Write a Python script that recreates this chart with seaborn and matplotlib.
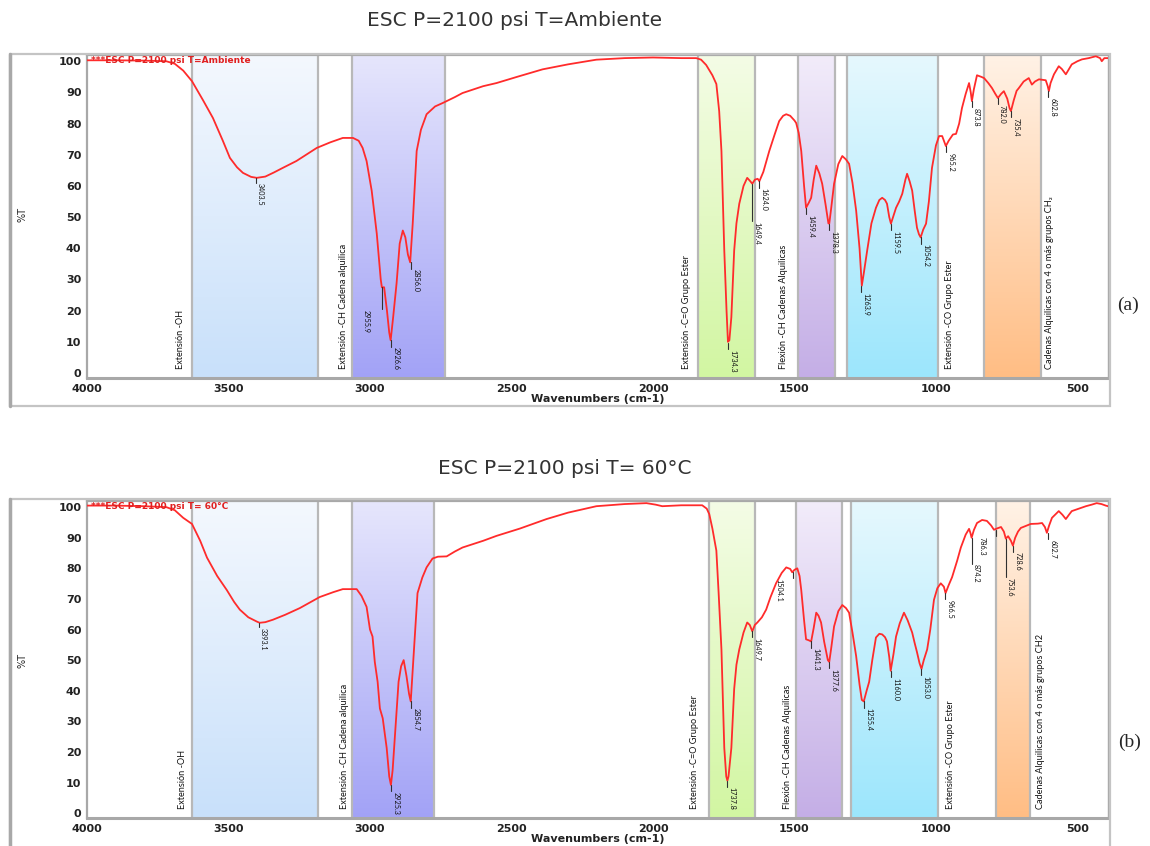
import numpy as np
import matplotlib
matplotlib.use("Agg")
import matplotlib.pyplot as plt
from matplotlib.colors import LinearSegmentedColormap
from matplotlib.patches import Rectangle
from matplotlib.ticker import MultipleLocator
import seaborn as sns

# ================================================================
# DATA
# ================================================================
titles = ["ESC P=2100 psi T=Ambiente", "ESC P=2100 psi T= 60°C"]
legends = ["***ESC P=2100 psi T=Ambiente", "***ESC P=2100 psi T= 60°C"]
panel_tags = ["(a)", "(b)"]

wn_a = [4000, 3900, 3800, 3720, 3690, 3660, 3629, 3590, 3555, 3520, 3495, 3470, 3449, 3420,
        3400, 3370, 3340, 3308, 3260, 3188, 3140, 3096, 3060, 3040, 3026, 3012, 2994, 2976,
        2962, 2958, 2950, 2940, 2932, 2927, 2918, 2906, 2895, 2884, 2875, 2866, 2858, 2849,
        2840, 2835, 2820, 2800, 2770, 2743, 2700, 2673, 2600, 2553, 2480, 2390, 2300, 2200,
        2100, 2000, 1900, 1847, 1830, 1812, 1790, 1776, 1766, 1758, 1748, 1740, 1735, 1730,
        1723, 1713, 1705, 1695, 1680, 1667, 1656, 1649, 1640, 1630, 1624, 1610, 1589, 1570,
        1554, 1540, 1529, 1515, 1500, 1494, 1485, 1476, 1466, 1459, 1450, 1441, 1432, 1423,
        1412, 1402, 1390, 1380, 1377, 1370, 1360, 1345, 1331, 1318, 1307, 1295, 1282, 1270,
        1262, 1255, 1243, 1228, 1212, 1200, 1190, 1180, 1173, 1165, 1159, 1150, 1141, 1130,
        1119, 1108, 1102, 1093, 1084, 1075, 1067, 1060, 1054, 1045, 1035, 1025, 1014, 1000,
        989, 978, 970, 965, 955, 940, 929, 918, 908, 895, 883, 877, 873, 866, 855, 840, 830,
        815, 802, 790, 781, 770, 760, 748, 740, 735, 725, 715, 707, 690, 672, 661, 650, 636,
        612, 605, 601, 595, 583, 566, 555, 541, 530, 520, 500, 484, 460, 435, 420, 414, 405,
        392]
t_a = [100.3, 100.3, 100.2, 100.0, 99.2, 97.0, 93.6, 87.5, 81.8, 74.5, 69.0, 66.0, 64.2, 62.9,
       62.6, 63.0, 64.3, 65.8, 68.0, 72.2, 74.0, 75.4, 75.4, 74.5, 72.2, 68.0, 58.5, 44.7,
       30.0, 27.5, 27.5, 20.0, 13.0, 10.5, 18.0, 28.8, 41.5, 45.7, 43.5, 38.0, 35.5, 47.9,
       63.0, 71.2, 78.0, 83.0, 85.5, 86.6, 88.5, 89.8, 92.0, 93.0, 95.0, 97.4, 99.0, 100.5,
       101.0, 101.2, 101.0, 101.0, 100.5, 98.8, 95.5, 92.7, 84.0, 71.2, 39.3, 20.0, 10.0, 10.5,
       17.9, 39.3, 48.0, 54.3, 60.0, 62.6, 61.5, 60.7, 62.0, 62.3, 61.5, 64.5, 71.2, 76.5,
       80.8, 82.5, 83.0, 82.5, 81.0, 80.2, 77.0, 71.2, 60.0, 53.0, 54.5, 56.2, 62.0, 66.5,
       64.0, 60.7, 54.0, 48.0, 47.9, 53.0, 60.7, 67.0, 69.6, 68.5, 67.1, 61.0, 52.1, 40.0,
       28.0, 32.0, 39.3, 48.0, 53.0, 55.5, 56.2, 55.5, 54.3, 50.0, 47.9, 50.5, 53.0, 55.0,
       57.5, 62.0, 63.9, 61.5, 58.5, 52.0, 46.6, 44.5, 43.5, 46.0, 47.9, 55.0, 65.8, 73.0,
       76.0, 76.0, 74.0, 72.8, 74.5, 76.5, 76.7, 80.0, 85.0, 89.5, 93.0, 90.0, 87.2, 91.0,
       95.5, 95.0, 94.6, 93.0, 91.4, 89.5, 88.2, 89.5, 90.4, 88.0, 85.0, 84.0, 87.5, 90.5,
       91.4, 93.5, 94.6, 92.5, 93.5, 94.2, 93.9, 92.0, 90.4, 93.0, 95.8, 98.4, 97.5, 95.8,
       97.5, 99.0, 100.0, 100.6, 101.0, 101.6, 101.0, 100.0, 101.0, 101.0]

wn_b = [4000, 3900, 3800, 3720, 3690, 3660, 3629, 3600, 3576, 3540, 3506, 3480, 3460, 3430,
        3400, 3390, 3370, 3343, 3300, 3248, 3178, 3130, 3096, 3047, 3030, 3012, 3000, 2991,
        2983, 2973, 2965, 2955, 2941, 2932, 2926, 2920, 2913, 2899, 2890, 2881, 2871, 2862,
        2856, 2846, 2838, 2832, 2815, 2800, 2779, 2760, 2729, 2700, 2673, 2600, 2553, 2470,
        2376, 2300, 2200, 2100, 2023, 1990, 1967, 1900, 1826, 1810, 1801, 1790, 1776, 1768,
        1758, 1748, 1741, 1737, 1733, 1723, 1713, 1705, 1695, 1680, 1667, 1658, 1649, 1640,
        1631, 1615, 1600, 1585, 1565, 1545, 1529, 1515, 1508, 1500, 1490, 1482, 1476, 1466,
        1459, 1450, 1441, 1432, 1423, 1415, 1406, 1395, 1382, 1377, 1370, 1360, 1345, 1331,
        1318, 1307, 1295, 1282, 1270, 1262, 1255, 1245, 1236, 1225, 1212, 1200, 1190, 1180,
        1173, 1165, 1160, 1150, 1141, 1128, 1113, 1100, 1084, 1075, 1067, 1058, 1051, 1043,
        1031, 1020, 1007, 995, 983, 972, 966, 955, 943, 925, 912, 895, 883, 878, 874, 866,
        855, 837, 820, 805, 795, 785, 770, 760, 753, 745, 735, 728, 720, 710, 700, 665, 640,
        625, 615, 608, 600, 590, 566, 553, 541, 530, 520, 495, 470, 450, 432, 415, 400, 392]
t_b = [100.5, 100.5, 100.3, 100.0, 99.0, 96.5, 94.5, 89.0, 83.5, 77.5, 72.9, 69.0, 66.5, 64.0,
       62.6, 62.2, 62.4, 63.2, 64.8, 67.0, 70.6, 72.2, 73.2, 73.2, 71.0, 67.4, 60.0, 57.7,
       49.4, 42.9, 34.2, 31.0, 21.3, 12.0, 9.2, 14.0, 23.5, 42.9, 48.0, 50.0, 44.8, 39.0,
       36.5, 51.3, 63.0, 71.9, 77.0, 80.3, 83.2, 83.8, 83.9, 85.5, 86.8, 89.0, 90.6, 93.0,
       96.1, 98.2, 100.3, 101.0, 101.3, 100.8, 100.3, 100.6, 100.6, 99.5, 97.7, 93.0, 85.8, 72.0,
       53.5, 21.3, 12.0, 10.6, 12.0, 21.3, 40.6, 48.5, 53.5, 59.0, 62.3, 61.5, 59.4, 61.5,
       62.3, 64.0, 66.5, 70.5, 75.1, 78.5, 80.3, 79.8, 78.7, 79.5, 80.0, 77.5, 72.9, 63.0,
       56.8, 56.5, 56.1, 60.5, 65.5, 64.5, 62.3, 56.0, 50.0, 49.4, 54.0, 61.0, 66.0, 68.0,
       67.0, 65.5, 59.0, 51.3, 42.0, 37.0, 36.5, 40.0, 42.9, 50.0, 57.4, 58.6, 58.4, 57.5,
       56.1, 51.0, 46.5, 52.0, 57.7, 62.0, 65.5, 63.0, 59.0, 55.5, 52.6, 49.0, 47.1, 50.0,
       53.5, 60.0, 69.7, 73.5, 75.1, 74.0, 71.9, 74.5, 77.1, 82.5, 86.8, 91.0, 92.9, 91.5, 90.0, 92.5,
       94.8, 95.8, 95.5, 94.0, 92.6, 93.0, 93.5, 92.0, 89.7, 90.5, 89.0, 87.4, 90.0, 92.0, 93.2, 94.5, 94.6,
       94.8, 93.5, 91.6, 94.0, 96.5, 98.7, 97.5, 96.1, 97.5, 98.7, 99.5, 100.3, 100.8, 101.3, 101.0, 100.5, 100.3]

# assignment bands (left / right wavenumber edges)
band_names = ["Extensión -OH", "Extensión -CH Cadena alquilica", "Extensión -C=O Grupo Ester",
              "Flexión -CH Cadenas Alquilicas", "Extensión -CO Grupo Ester",
              "Cadenas Alquilicas con 4 o más grupos CH₂"]
band_names_b = band_names[:5] + ["Cadenas Alquilicas con 4 o más grupos CH2"]
bands_a = [(3629, 3184), (3062, 2736), (1842, 1639), (1487, 1356), (1315, 992), (829, 627)]
bands_b = [(3629, 3184), (3062, 2775), (1801, 1639), (1495, 1333), (1301, 992), (789, 666)]
band_colors = [("#f4f8fe", "#c8e0fa"), ("#e6e6fc", "#a2a2f6"), ("#f4fce6", "#d2f6a2"),
               ("#f2ecfa", "#c4aee6"), ("#e6f8fe", "#9ce6fc"), ("#fff2e6", "#ffbd84")]

# peak picks
peaks_a = ["3403.5", "2955.9", "2926.6", "2856.0", "1734.3", "1649.4", "1624.0", "1459.4",
           "1378.3", "1263.9", "1159.5", "1054.2", "965.2", "873.8", "782.0", "735.4", "602.8"]
peak_t_a = [62.6, 27.5, 10.5, 35.5, 9.6, 60.7, 61.5, 53.0, 47.9, 28.0, 47.9, 43.5, 72.8,
            87.2, 88.2, 84.0, 90.4]
peaks_b = ["3393.1", "2925.3", "2854.7", "1737.8", "1649.7", "1504.1", "1441.3", "1377.6",
           "1255.4", "1160.0", "1053.0", "966.5", "874.2", "786.3", "753.6", "728.6", "602.7"]
peak_t_b = [62.2, 9.2, 36.5, 10.6, 59.4, 78.7, 56.1, 49.4, 36.5, 46.5, 47.1, 71.9, 90.0,
            92.6, 89.7, 87.4, 91.6]

# ================================================================
# LAYOUT
# ================================================================
W, H = 1150, 846
XLIM = (4000, 392)
YLIM = (-1.6, 102)
NARROW = ["Liberation Sans Narrow", "Lato", "DejaVu Sans"]

label_x_a = [3671, 3095, 1883, 1537, 951, 597]
label_x_b = [3661, 3089, 1854, 1523, 947, 630]
# leader length (%T) and text shift (points) for each pick
lead_a = [1.5, 7, 2, 2, 2, 12, 2, 2, 2, 2, 2, 2, 2, 2, 2, 2, 2]
shift_a = [1, -9, 1, 1, 1, 1, 1, 1, 1, 1, 1, 1, 1, 1, 1, 1, 1]
lead_b = [1.5, 2, 2, 2, 2, 2, 2, 2, 2, 2, 2, 2, 8.5, 2, 12.5, 2, 2]
shift_b = [1, 1, 1, 1, 1, -8, 1, 1, 1, 1, 1, 1, 1, -8, 1, 1, 1]


def draw_band(ax, left, right, c_top, c_bot):
    cmap = LinearSegmentedColormap.from_list("band", [c_bot, c_top])
    grad = np.linspace(0, 1, 256).reshape(-1, 1)
    ax.imshow(grad, extent=[left, right, YLIM[0], YLIM[1]], origin="lower",
              cmap=cmap, aspect="auto", zorder=0, interpolation="bilinear")
    for edge in (left, right):
        ax.axvline(edge, color="#b8b8b8", lw=1.6, zorder=1)


def draw_panel(ax, wn, t, bands, names, label_x, peaks, peak_t, lead, shift, legend):
    for (l, r), (ct, cb) in zip(bands, band_colors):
        draw_band(ax, l, r, ct, cb)

    sns.lineplot(x=wn, y=t, ax=ax, color="#ff2b2b", lw=1.3, sort=False,
                 estimator=None, zorder=3)

    for x, name in zip(label_x, names):
        ax.text(x, 1.2, name, rotation=90, ha="center", va="bottom",
                fontsize=6.6, family=NARROW, color="#111111", zorder=4)

    for lab, pt, ld, dx in zip(peaks, peak_t, lead, shift):
        w = float(lab)
        ax.plot([w, w], [pt, pt - ld], color="#303030", lw=0.8, zorder=4)
        ax.annotate(lab, xy=(w, pt - ld), xytext=(dx, -0.5), textcoords="offset points",
                    rotation=270, ha="left" if dx >= 0 else "right", va="top",
                    fontsize=5.2, family=NARROW, color="#111111", zorder=4)

    ax.text(0.004, 0.982, legend, transform=ax.transAxes, color="#e02020",
            fontsize=6.5, fontweight="bold", va="center", ha="left", zorder=5)

    ax.set_xlim(*XLIM)
    ax.set_ylim(*YLIM)
    ax.xaxis.set_major_locator(MultipleLocator(500))
    ax.xaxis.set_minor_locator(MultipleLocator(100))
    ax.yaxis.set_major_locator(MultipleLocator(10))
    ax.yaxis.set_minor_locator(MultipleLocator(2))
    ax.tick_params(which="major", direction="inout", length=5, width=1, color="#555555",
                   labelsize=8, pad=1.5, labelcolor="#222222")
    ax.tick_params(which="minor", direction="inout", length=3, width=0.8, color="#888888")
    for lbl in ax.get_xticklabels() + ax.get_yticklabels():
        lbl.set_fontweight("bold")
    ax.set_xlabel("Wavenumbers (cm-1)", fontsize=8, fontweight="bold", labelpad=0,
                  color="#222222")
    ax.set_ylabel("")
    for side, lw in (("left", 1.6), ("bottom", 2.2), ("top", 1.6), ("right", 1.0)):
        ax.spines[side].set_color("#a8a8a8")
        ax.spines[side].set_linewidth(lw)


# ================================================================
# FIGURE
# ================================================================
sns.set_theme(style="white")
plt.rcParams["font.family"] = ["DejaVu Sans"]

fig = plt.figure(figsize=(W / 100, H / 100), dpi=100)
fig.patch.set_facecolor("white")

ax_a = fig.add_axes([87 / W, 1 - 378 / H, 1021 / W, 323 / H])
ax_b = fig.add_axes([87 / W, 1 - 818 / H, 1021 / W, 317 / H])

draw_panel(ax_a, wn_a, t_a, bands_a, band_names, label_x_a, peaks_a, peak_t_a,
           lead_a, shift_a, legends[0])
draw_panel(ax_b, wn_b, t_b, bands_b, band_names_b, label_x_b, peaks_b, peak_t_b,
           lead_b, shift_b, legends[1])

# outer instrument frames
fig.patches.append(Rectangle((10 / W, 1 - 406 / H), 1100 / W, 352 / H, fill=False,
                             edgecolor="#c4c4c4", lw=1.6, transform=fig.transFigure))
fig.patches.append(Rectangle((10 / W, -0.02), 1100 / W, 1 - 499 / H + 0.02, fill=False,
                             edgecolor="#c4c4c4", lw=1.6, transform=fig.transFigure))
for y0, y1 in ((1 - 406 / H, 1 - 54 / H), (0, 1 - 499 / H)):
    fig.add_artist(plt.Line2D([10 / W, 10 / W], [y0, y1], color="#a8a8a8", lw=2.5,
                              transform=fig.transFigure))

fig.text(515 / W, 1 - 20 / H, titles[0], fontsize=14.5, ha="center", va="center",
         color="#333333")
fig.text(565 / W, 1 - 468 / H, titles[1], fontsize=14.5, ha="center", va="center",
         color="#333333")
fig.text(22 / W, 1 - 215 / H, "%T", rotation=90, fontsize=7, ha="center", va="center")
fig.text(22 / W, 1 - 660 / H, "%T", rotation=90, fontsize=7, ha="center", va="center")
fig.text(1128 / W, 1 - 305 / H, panel_tags[0], fontsize=14, family="Liberation Serif",
         ha="center", va="center")
fig.text(1130 / W, 1 - 742 / H, panel_tags[1], fontsize=14, family="Liberation Serif",
         ha="center", va="center")

fig.savefig("out.png", dpi=100)
